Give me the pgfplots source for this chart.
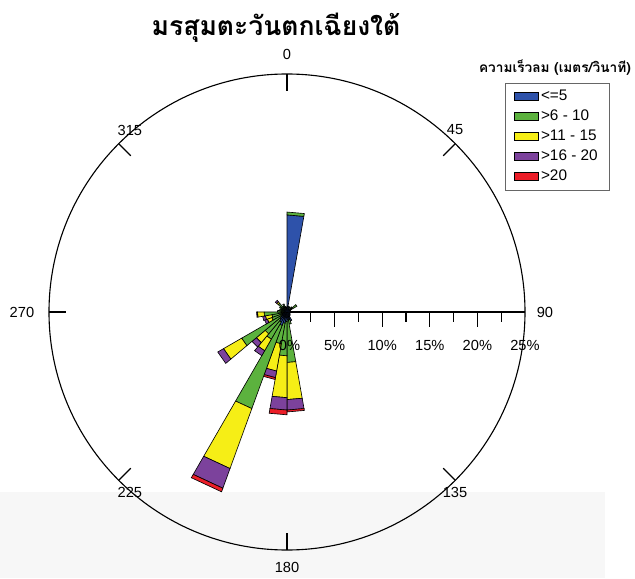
\documentclass[border=0pt]{standalone}
\usepackage{pgfplots}
\pgfplotsset{compat=1.18}
\usepackage{fontspec}
\setmainfont{Liberation Sans}
\newfontfamily\thaifont[Script=Thai]{Loma}
\definecolor{cB}{RGB}{46,82,170}
\definecolor{cG}{RGB}{92,178,62}
\definecolor{cY}{RGB}{246,238,22}
\definecolor{cP}{RGB}{124,66,156}
\definecolor{cR}{RGB}{236,30,40}
% one wedge segment: #1 bearing of sector start (deg, clockwise from N), #2 inner %, #3 outer %, #4 colour
\newcommand{\seg}[4]{%
  \pgfmathsetmacro\angA{90-#1}%
  \pgfmathsetmacro\angB{80-#1}%
  \addplot[data cs=polar, fill=#4, draw=black, line width=0.45pt, forget plot]
    coordinates {(\angA,#2) (\angA,#3) (\angB,#3) (\angB,#2)} -- cycle;}
\begin{document}
\begin{tikzpicture}
\begin{axis}[scale only axis, width=16cm, height=14.564cm,
  xmin=-30.147, xmax=36.555, ymin=-27.941, ymax=32.773,
  hide axis, clip=false,
  legend style={at={(axis cs:22.9,24.05)}, anchor=north west, draw=black!60,
    line width=0.5pt, font=\fontsize{11}{13}\selectfont,
    inner xsep=6pt, inner ysep=3pt, row sep=1.2pt, legend cell align=left,
    /tikz/every even column/.append style={column sep=2pt}},
  legend image code/.code={\draw[#1, draw=black, line width=0.4pt] (0cm,-0.11cm) rectangle (0.45cm,0.11cm);}]
\coordinate (bbSW) at (axis cs:-30.147,-27.941);
\coordinate (bbNE) at (axis cs:36.555,32.773);
\fill[black!3] (axis cs:-30.147,-18.9) rectangle (axis cs:33.4,-27.941);
% compass circle and ticks
\draw[line width=0.8pt] (axis cs:0,0) circle [radius=25];
\pgfplotsinvokeforeach{0,45,135,180,225,270,315}{
  \draw[line width=0.8pt] (axis cs:{25*sin(#1)},{25*cos(#1)}) -- (axis cs:{23.2*sin(#1)},{23.2*cos(#1)});}
% radial scale
\draw[line width=0.8pt] (axis cs:0,0) -- (axis cs:25,0);
\pgfplotsinvokeforeach{5,10,15,20}{\draw[line width=0.8pt] (axis cs:#1,0) -- (axis cs:#1,-1.6);}
\pgfplotsinvokeforeach{2.5,7.5,12.5,17.5,22.5}{\draw[line width=0.8pt] (axis cs:#1,0) -- (axis cs:#1,-1.05);}
% petals
\seg{0}{0}{10.2}{cB} \seg{0}{10.2}{10.5}{cG}
\seg{10}{0}{0.6}{cB}
\seg{20}{0}{0.4}{cB} \seg{20}{0.4}{0.6}{cG}
\seg{30}{0}{0.4}{cB}
\seg{40}{0}{0.4}{cB} \seg{40}{0.4}{0.7}{cG}
\seg{50}{0}{0.5}{cB} \seg{50}{0.5}{1.2}{cG}
\seg{60}{0}{0.4}{cB}
\seg{70}{0}{0.3}{cB}
\seg{80}{0}{0.3}{cB}
\seg{90}{0}{0.3}{cB}
\seg{100}{0}{0.3}{cB}
\seg{110}{0}{0.3}{cB}
\seg{120}{0}{0.4}{cB}
\seg{130}{0}{0.4}{cB}
\seg{140}{0}{0.5}{cB}
\seg{150}{0}{1.0}{cB}
\seg{160}{0}{0.8}{cB} \seg{160}{0.8}{1.3}{cG}
\seg{170}{0}{0.8}{cB} \seg{170}{0.8}{5.3}{cG} \seg{170}{5.3}{9.2}{cY} \seg{170}{9.2}{10.3}{cP} \seg{170}{10.3}{10.5}{cR}
\seg{180}{0}{1.0}{cB} \seg{180}{1.0}{4.6}{cG} \seg{180}{4.6}{9.0}{cY} \seg{180}{9.0}{10.3}{cP} \seg{180}{10.3}{10.8}{cR}
\seg{190}{0}{1.2}{cB} \seg{190}{1.2}{3.4}{cG} \seg{190}{3.4}{6.3}{cY} \seg{190}{6.3}{7.0}{cP} \seg{190}{7.0}{7.2}{cR}
\seg{200}{0}{1.5}{cB} \seg{200}{1.5}{10.8}{cG} \seg{200}{10.8}{17.5}{cY} \seg{200}{17.5}{19.7}{cP} \seg{200}{19.7}{20.1}{cR}
\seg{210}{0}{1.2}{cB} \seg{210}{1.2}{3.3}{cG} \seg{210}{3.3}{4.7}{cY} \seg{210}{4.7}{5.3}{cP}
\seg{220}{0}{1.0}{cB} \seg{220}{1.0}{3.0}{cG} \seg{220}{3.0}{4.2}{cY} \seg{220}{4.2}{4.8}{cP}
\seg{230}{0}{0.8}{cB} \seg{230}{0.8}{5.5}{cG} \seg{230}{5.5}{7.7}{cY} \seg{230}{7.7}{8.4}{cP}
\seg{240}{0}{0.6}{cB} \seg{240}{0.6}{1.7}{cG} \seg{240}{1.7}{2.2}{cY} \seg{240}{2.2}{2.5}{cP}
\seg{250}{0}{0.5}{cB} \seg{250}{0.5}{1.6}{cG} \seg{250}{1.6}{2.3}{cY} \seg{250}{2.3}{2.6}{cP}
\seg{260}{0}{0.5}{cB} \seg{260}{0.5}{2.4}{cG} \seg{260}{2.4}{3.1}{cY} \seg{260}{3.1}{3.2}{cP}
\seg{270}{0}{0.4}{cB} \seg{270}{0.4}{1.0}{cG}
\seg{280}{0}{0.4}{cB} \seg{280}{0.4}{0.8}{cG}
\seg{290}{0}{0.3}{cB} \seg{290}{0.3}{0.7}{cG}
\seg{300}{0}{0.4}{cB} \seg{300}{0.4}{0.9}{cG}
\seg{310}{0}{0.4}{cB} \seg{310}{0.4}{1.2}{cG} \seg{310}{1.2}{1.4}{cY} \seg{310}{1.4}{1.6}{cP}
\seg{320}{0}{0.4}{cB} \seg{320}{0.4}{0.7}{cG}
\seg{330}{0}{0.4}{cB} \seg{330}{0.4}{0.9}{cG}
\seg{340}{0}{0.3}{cB} \seg{340}{0.3}{0.6}{cG}
\seg{350}{0}{0.5}{cB}
% legend
\addlegendimage{area legend, fill=cB}
\addlegendimage{area legend, fill=cG}
\addlegendimage{area legend, fill=cY}
\addlegendimage{area legend, fill=cP}
\addlegendimage{area legend, fill=cR}
\legend{<=5, >6 - 10, >11 - 15, >16 - 20, >20}
% labels
\node[font=\fontsize{10.5}{12}\selectfont] at (axis cs:0,27.0) {0};
\node[font=\fontsize{10.5}{12}\selectfont] at (axis cs:17.65,19.12) {45};
\node[font=\fontsize{10.5}{12}\selectfont] at (axis cs:27.1,0) {90};
\node[font=\fontsize{10.5}{12}\selectfont] at (axis cs:17.65,-19.0) {135};
\node[font=\fontsize{10.5}{12}\selectfont] at (axis cs:0,-26.8) {180};
\node[font=\fontsize{10.5}{12}\selectfont] at (axis cs:-16.5,-19.0) {225};
\node[font=\fontsize{10.5}{12}\selectfont] at (axis cs:-27.84,0) {270};
\node[font=\fontsize{10.5}{12}\selectfont] at (axis cs:-16.5,19.12) {315};
\node[font=\fontsize{10.5}{12}\selectfont] at (axis cs:0.26,-3.47) {0\%};
\pgfplotsinvokeforeach{5,10,15,20,25}{\node[font=\fontsize{10.5}{12}\selectfont] at (axis cs:#1,-3.47) {#1\%};}
\node[font=\thaifont\bfseries\fontsize{19}{22}\selectfont, inner sep=1pt] at (axis cs:-1.15,29.9) {มรสุมตะวันตกเฉียงใต้};
\node[font=\thaifont\bfseries\fontsize{9.8}{12}\selectfont, anchor=east, inner sep=1pt] at (axis cs:36.3,25.68) {ความเร็วลม (เมตร/วินาที)};
\end{axis}
\pgfresetboundingbox
\useasboundingbox (bbSW) rectangle (bbNE);
\end{tikzpicture}
\end{document}
